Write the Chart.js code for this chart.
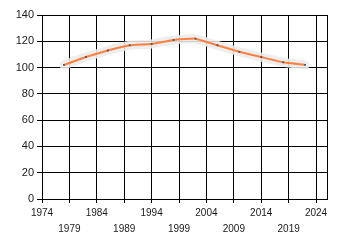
<!DOCTYPE html>
<html>
<head>
<meta charset="utf-8">
<script src="https://cdn.jsdelivr.net/npm/chart.js@4"></script>
<style>
  html, body { margin: 0; padding: 0; background: #fff; }
  #wrap { width: 340px; height: 245px; }
</style>
</head>
<body>
<div id="wrap"><canvas id="chart" width="340" height="245"></canvas></div>
<script>
// values
const years = [1978, 1982, 1986, 1990, 1994, 1998, 2002, 2006, 2010, 2014, 2018, 2022];
const values = [102, 108, 113, 117, 118, 121, 122, 117, 112, 108, 104, 102];
const xTicks = [1974, 1979, 1984, 1989, 1994, 1999, 2004, 2009, 2014, 2019, 2024, 2026];
const yTicks = [0, 20, 40, 60, 80, 100, 120, 140];

const points = years.map((y, i) => ({ x: y, y: values[i] }));
const font = { family: "'Liberation Sans', Arial, sans-serif", size: 10, lineHeight: 1.6 };

new Chart(document.getElementById('chart'), {
    type: 'line',
    data: {
        datasets: [
            { data: points, borderColor: '#ff7f3f', borderWidth: 2, tension: 0.1,
              pointStyle: 'rect', pointRadius: 1.3, pointBackgroundColor: '#555', pointBorderWidth: 0 },
            // soft grey halo behind the line, covers the grid
            { data: points, borderColor: 'rgba(236,236,236,0.88)', borderWidth: 9, tension: 0.1,
              pointRadius: 0, borderCapStyle: 'round' }
        ]
    },
    options: {
        responsive: false,
        animation: false,
        layout: { padding: { left: 0, top: 15, right: 13, bottom: 0 } },
        plugins: { legend: { display: false }, tooltip: { enabled: false } },
        scales: {
            x: {
                type: 'linear', min: 1974, max: 2026,
                afterBuildTicks: s => { s.ticks = xTicks.map(v => ({ value: v })); },
                afterFit: s => { s.height = 46; },
                grid: { color: '#000', lineWidth: 1, tickLength: 4,
                        tickColor: c => (c.tick && c.tick.value === 2026) ? 'rgba(0,0,0,0)' : '#000' },
                border: { color: '#000', width: 1 },
                ticks: {
                    autoSkip: false, maxRotation: 0, minRotation: 0, padding: 2, color: '#1a1a1a', font,
                    callback: (v, i) => v === 2026 ? '' : (i % 2 === 0 ? String(v) : ['', String(v)])
                }
            },
            y: {
                min: 0, max: 140,
                afterBuildTicks: s => { s.ticks = yTicks.map(v => ({ value: v })); },
                afterFit: s => { s.width = 42; },
                grid: { color: '#000', lineWidth: 1, tickLength: 5 },
                border: { color: '#000', width: 1 },
                ticks: { padding: 3, color: '#1a1a1a', font: { family: font.family, size: 11 } }
            }
        }
    }
});
</script>
</body>
</html>
